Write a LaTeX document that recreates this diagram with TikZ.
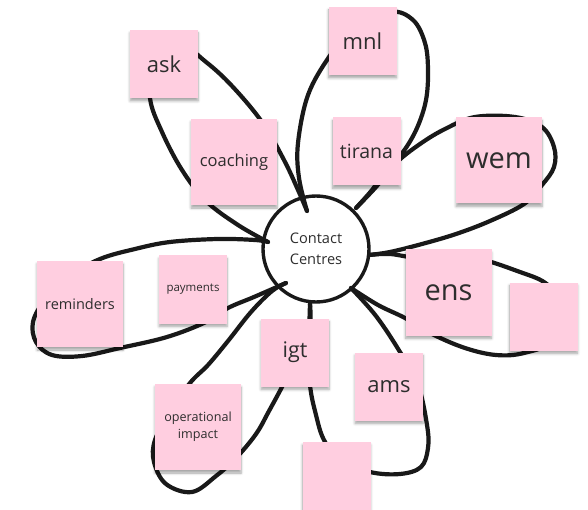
\documentclass[tikz,border=0pt]{standalone}
\usepackage{fontspec}
\setmainfont{Open Sans}
\usetikzlibrary{shadows.blur,calc}
\definecolor{stickypink}{RGB}{255,206,224}
\definecolor{inkgray}{RGB}{45,45,45}
\pgfdeclarelayer{ink}
\pgfsetlayers{ink,main}
\newcommand{\fs}[2]{\fontsize{#1pt}{#2pt}\selectfont}
\tikzset{
  sticky/.style={fill=stickypink, inner sep=0pt, align=center, text=inkgray,
    blur shadow={shadow xshift=0pt, shadow yshift=-3pt, shadow opacity=35,
      shadow blur steps=6, shadow blur radius=2.5pt}},
  small/.style={sticky, minimum width=68pt, minimum height=68pt},
  big/.style={sticky, minimum width=86pt, minimum height=86pt},
  hub/.style={circle, draw=black!90, line width=3.4pt, minimum size=106pt, inner sep=0pt,
    align=center, text=inkgray, font=\fs{14.6}{21}},
  loop/.style={draw=black!90, line width=4.2pt, line cap=round, line join=round}
}
\begin{document}
\begin{tikzpicture}[x=1pt,y=-1pt]
\useasboundingbox (0,0) rectangle (588,510);

% hub
\node[hub] (cc) at (316,249) {Contact\\Centres};

% sticky notes
\node[small, font=\fs{22}{26}]   (ask)   at (164,64)    {ask};
\node[big, font=\fs{16.5}{20}]   (coach) at (234,162)   {coaching};
\node[small, font=\fs{22}{26}]   (mnl)   at (362.5,41)  {mnl};
\node[small, font=\fs{19.5}{24}] (tir)   at (366.5,151.5) {tirana};
\node[big, font=\fs{29}{34}]     (wem)   at (499,160.5) {wem};
\node[big, font=\fs{29}{34}]     (ens)   at (448.5,292.5) {ens};
\node[small] (blankr) at (543.5,316.5) {};
\node[small, font=\fs{22}{26}]   (ams)   at (389,386.5) {ams};
\node[small] (blankb) at (336.5,476) {};
\node[small, font=\fs{21.5}{26}] (igt)   at (295,352.5) {igt};
\node[big, font=\fs{14.5}{18}]   (rem)   at (80,304)    {reminders};
\node[small, font=\fs{11.5}{14}] (pay)   at (193,289.5) {payments};
\node[big, font=\fs{12.6}{17}]   (ops)   at (198,427)   {operational\\impact};

% loop ends on the hub
\coordinate (e1) at (268,242);
\coordinate (e2) at (307,211);
\coordinate (e3) at (356,208);
\coordinate (e4) at (369,255);
\coordinate (e5) at (351,288);
\coordinate (e6) at (310,304);
\coordinate (e7) at (286,283);

\begin{pgfonlayer}{ink}
% ask / coaching
\draw[loop] plot[smooth, tension=0.6] coordinates {(e1) (238,225) (206,201) (182,170) (162,132) (150,98) (154,62) (180,45) (206,62) (232,86) (262,122) (284,160) (298,190) (e2)};
% mnl / tirana
\draw[loop] plot[smooth, tension=0.6] coordinates {(e2) (299,178) (298,143) (308,95) (329,57) (352,30) (390,12) (413,20) (425,43) (428,70) (426,100) (417,128) (403,152) (385,172) (372,190) (e3)};
% tirana / wem
\draw[loop] plot[smooth, tension=0.6] coordinates {(e3) (376,187) (396,163) (420,144) (445,129) (475,117) (515,117) (542,127) (554,147) (554,167) (542,185) (524,204) (490,221) (456,234) (422,244) (390,252) (e4)};
% ens / blank
\draw[loop] plot[smooth, tension=0.6] coordinates {(e4) (390,254) (420,258) (470,257) (520,272) (548,285) (565,310) (556,340) (524,353) (496,355) (465,348) (432,334) (405,318) (378,305) (e5)};
% ams / blank / igt
\draw[loop] plot[smooth, tension=0.6] coordinates {(e5) (376,316) (400,352) (418,385) (427,425) (428,448) (421,467) (400,474) (370,472) (340,460) (324,440) (316,415) (310,385) (309,345) (e6)};
% igt / operational impact
\draw[loop] plot[smooth, tension=0.6] coordinates {(e6) (309,330) (294,362) (283,385) (269,411) (256,434) (236,458) (216,476) (192,492) (166,484) (154,462) (155,440) (170,412) (190,383) (208,365) (228,341) (251,312) (272,291) (e7)};
% payments / reminders
\draw[loop] plot[smooth, tension=0.6] coordinates {(e7) (254,297) (228,308) (206,322) (167,337) (120,348) (82,356) (52,355) (36,342) (33,322) (45,300) (70,276) (100,259) (135,249) (170,242) (218,239) (255,240) (e1)};
\end{pgfonlayer}
\end{tikzpicture}
\end{document}
